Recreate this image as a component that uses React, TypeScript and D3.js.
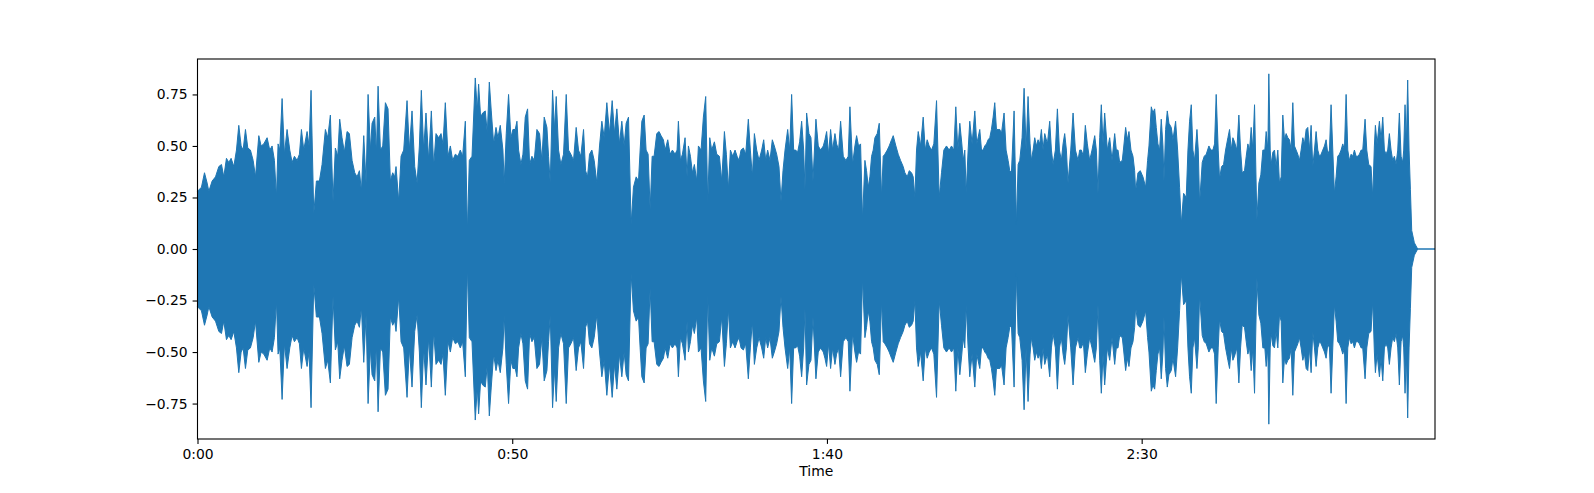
import { useRef, useEffect } from 'react';
import * as d3 from 'd3';

// peak amplitude (symmetric envelope): [seconds, amplitude]
const ENVELOPE_0_24: [number, number][] = [
  [0, 0.28], [0.63, 0.30], [1.11, 0.37], [1.53, 0.32], [1.80, 0.28], [2.33, 0.33], [2.86, 0.35],
  [3.39, 0.40], [3.81, 0.41], [4.18, 0.35], [4.60, 0.44], [4.97, 0.42], [5.34, 0.44], [5.77, 0.40],
  [6.19, 0.48], [6.56, 0.60], [6.93, 0.50], [7.25, 0.48], [7.62, 0.58], [7.99, 0.49], [8.41, 0.48],
  [8.84, 0.43], [9.21, 0.35], [9.74, 0.55], [10.11, 0.50], [10.53, 0.51], [11.06, 0.54], [11.48, 0.48],
  [11.85, 0.50], [12.22, 0.43], [12.54, 0.25], [12.80, 0.51], [13.07, 0.48], [13.44, 0.73], [13.81, 0.46],
  [14.23, 0.58], [14.66, 0.48], [15.03, 0.42], [15.40, 0.45], [15.82, 0.43], [16.19, 0.46], [16.51, 0.58],
  [16.88, 0.48], [17.41, 0.57], [17.72, 0.50], [18.04, 0.77], [18.47, 0.17], [18.89, 0.33], [19.37, 0.33],
  [19.79, 0.41], [20.32, 0.58], [20.69, 0.54], [21.11, 0.65], [21.53, 0.23], [21.90, 0.49], [22.28, 0.45],
  [22.59, 0.63], [22.96, 0.54], [23.33, 0.47], [23.76, 0.57],
];

const ENVELOPE_24_48: [number, number][] = [
  [24.13, 0.56], [24.56, 0.43], [24.98, 0.37], [25.35, 0.35], [25.72, 0.38], [26.04, 0.28], [26.41, 0.55],
  [26.78, 0.32], [27.10, 0.75], [27.47, 0.48], [27.73, 0.61], [28.16, 0.64], [28.42, 0.46], [28.69, 0.79],
  [29.06, 0.48], [29.43, 0.50], [29.85, 0.71], [30.27, 0.68], [30.64, 0.33], [31.01, 0.37], [31.33, 0.35],
  [31.54, 0.40], [31.97, 0.23], [32.34, 0.45], [32.76, 0.48], [33.29, 0.72], [33.66, 0.48], [34.08, 0.67],
  [34.51, 0.40], [34.88, 0.32], [35.25, 0.50], [35.56, 0.77], [35.93, 0.48], [36.30, 0.66], [36.73, 0.43],
  [37.15, 0.67], [37.52, 0.40], [37.89, 0.56], [38.31, 0.54], [38.69, 0.56], [39.00, 0.51], [39.37, 0.71],
  [39.80, 0.45], [40.17, 0.50], [40.54, 0.43], [40.96, 0.46], [41.38, 0.45], [41.75, 0.48], [42.12, 0.45],
  [42.55, 0.62], [42.87, 0.08], [43.18, 0.43], [43.61, 0.45], [44.13, 0.83], [44.45, 0.67], [44.66, 0.80],
  [44.98, 0.64], [45.30, 0.66], [45.72, 0.67], [46.04, 0.56], [46.36, 0.81], [46.67, 0.67], [47.05, 0.51],
  [47.42, 0.59], [47.73, 0.54],
];

const ENVELOPE_48_73: [number, number][] = [
  [48.10, 0.60], [48.52, 0.48], [48.73, 0.32], [49.05, 0.56], [49.42, 0.75], [49.79, 0.54], [50.11, 0.58],
  [50.48, 0.58], [50.75, 0.62], [51.01, 0.48], [51.38, 0.41], [51.70, 0.46], [52.07, 0.64], [52.44, 0.68],
  [52.76, 0.41], [53.13, 0.45], [53.50, 0.43], [53.92, 0.58], [54.34, 0.56], [54.71, 0.43], [55.08, 0.64],
  [55.51, 0.59], [55.77, 0.45], [56.04, 0.32], [56.41, 0.77], [56.72, 0.58], [56.99, 0.74], [57.36, 0.48],
  [57.73, 0.41], [58.15, 0.46], [58.58, 0.75], [58.95, 0.48], [59.32, 0.46], [59.74, 0.43], [60.16, 0.59],
  [60.53, 0.48], [60.90, 0.45], [61.33, 0.58], [61.65, 0.38], [61.96, 0.35], [62.28, 0.46], [62.65, 0.48],
  [63.02, 0.43], [63.44, 0.32], [63.87, 0.50], [64.24, 0.62], [64.61, 0.54], [65.03, 0.71], [65.45, 0.56],
  [65.88, 0.72], [66.25, 0.56], [66.62, 0.68], [67.04, 0.51], [67.41, 0.62], [67.78, 0.50], [68.10, 0.61],
  [68.47, 0.64], [68.89, 0.12], [69.26, 0.30], [69.69, 0.35], [70.06, 0.33], [70.32, 0.48], [70.59, 0.62],
  [70.96, 0.65], [71.27, 0.48], [71.59, 0.46], [71.91, 0.19], [72.23, 0.45], [72.54, 0.45],
];

const ENVELOPE_73_98: [number, number][] = [
  [72.96, 0.56], [73.33, 0.57], [73.65, 0.55], [74.02, 0.53], [74.29, 0.48], [74.71, 0.53], [75.08, 0.46],
  [75.45, 0.48], [75.87, 0.46], [76.19, 0.48], [76.40, 0.62], [76.72, 0.43], [77.04, 0.46], [77.46, 0.54],
  [77.78, 0.35], [77.99, 0.50], [78.31, 0.45], [78.63, 0.37], [78.94, 0.41], [79.31, 0.33], [79.58, 0.50],
  [80.00, 0.48], [80.37, 0.64], [80.74, 0.74], [81.06, 0.22], [81.38, 0.54], [81.69, 0.48], [82.12, 0.52],
  [82.49, 0.46], [82.91, 0.45], [83.28, 0.33], [83.71, 0.57], [84.02, 0.46], [84.34, 0.29], [84.66, 0.48],
  [85.03, 0.45], [85.40, 0.48], [85.72, 0.45], [86.03, 0.43], [86.35, 0.48], [86.72, 0.49], [87.09, 0.46],
  [87.51, 0.63], [87.83, 0.48], [88.15, 0.35], [88.47, 0.56], [88.84, 0.48], [89.21, 0.43], [89.63, 0.48],
  [89.95, 0.53], [90.27, 0.43], [90.58, 0.48], [90.95, 0.43], [91.32, 0.53], [91.64, 0.50], [92.01, 0.46],
  [92.38, 0.40], [92.70, 0.23], [93.02, 0.38], [93.34, 0.48], [93.76, 0.58], [94.08, 0.48], [94.39, 0.75],
  [94.71, 0.48], [95.03, 0.48], [95.35, 0.47], [95.66, 0.52], [95.98, 0.62], [96.30, 0.48], [96.51, 0.29],
  [96.77, 0.66], [97.14, 0.56], [97.46, 0.54], [97.78, 0.33],
];

const ENVELOPE_98_122: [number, number][] = [
  [98.25, 0.63], [98.62, 0.50], [98.99, 0.48], [99.42, 0.50], [99.68, 0.53], [99.95, 0.57], [100.26, 0.46],
  [100.58, 0.58], [100.90, 0.48], [101.27, 0.56], [101.53, 0.51], [101.85, 0.48], [102.17, 0.62], [102.59, 0.45],
  [103.01, 0.43], [103.38, 0.45], [103.65, 0.69], [104.07, 0.41], [104.44, 0.50], [104.71, 0.55], [105.02, 0.50],
  [105.34, 0.51], [105.66, 0.14], [106.03, 0.43], [106.29, 0.38], [106.56, 0.30], [106.82, 0.35], [107.09, 0.45],
  [107.35, 0.48], [107.62, 0.54], [107.99, 0.56], [108.31, 0.61], [108.68, 0.25], [108.94, 0.45], [109.20, 0.46],
  [109.58, 0.48], [109.89, 0.50], [110.26, 0.53], [110.53, 0.55], [110.95, 0.50], [111.32, 0.46], [111.69, 0.43],
  [112.11, 0.40], [112.38, 0.37], [112.75, 0.35], [113.07, 0.38], [113.44, 0.37], [113.70, 0.35], [113.97, 0.25],
  [114.23, 0.48], [114.50, 0.57], [114.87, 0.50], [115.29, 0.64], [115.61, 0.48], [115.92, 0.53], [116.24, 0.50],
  [116.61, 0.48], [116.98, 0.51], [117.41, 0.72], [117.83, 0.25], [118.20, 0.37], [118.57, 0.48], [118.99, 0.50],
  [119.42, 0.48], [119.79, 0.50], [120.16, 0.48], [120.47, 0.69], [120.79, 0.48], [121.11, 0.61], [121.43, 0.51],
  [121.64, 0.43], [121.90, 0.48], [122.12, 0.27],
];

const ENVELOPE_122_147: [number, number][] = [
  [122.43, 0.48], [122.69, 0.62], [123.06, 0.51], [123.49, 0.67], [123.80, 0.51], [124.28, 0.58], [124.55, 0.48],
  [124.81, 0.48], [125.07, 0.50], [125.34, 0.51], [125.60, 0.53], [125.87, 0.54], [126.13, 0.58], [126.40, 0.64],
  [126.66, 0.71], [126.93, 0.58], [127.19, 0.58], [127.46, 0.58], [127.72, 0.56], [128.14, 0.66], [128.46, 0.48],
  [128.78, 0.43], [129.04, 0.38], [129.31, 0.37], [129.73, 0.67], [130.10, 0.12], [130.37, 0.41], [130.63, 0.43],
  [131.00, 0.54], [131.32, 0.78], [131.64, 0.48], [131.95, 0.74], [132.27, 0.51], [132.48, 0.43], [132.75, 0.48],
  [133.01, 0.54], [133.28, 0.50], [133.54, 0.53], [133.80, 0.51], [134.07, 0.58], [134.33, 0.48], [134.60, 0.56],
  [135.02, 0.51], [135.39, 0.62], [135.66, 0.48], [135.92, 0.41], [136.29, 0.48], [136.61, 0.68], [136.93, 0.48],
  [137.24, 0.43], [137.51, 0.51], [137.77, 0.56], [138.04, 0.48], [138.30, 0.32], [138.73, 0.48], [139.10, 0.66],
  [139.47, 0.48], [139.89, 0.43], [140.15, 0.48], [140.42, 0.48], [140.74, 0.45], [141.05, 0.60], [141.37, 0.51],
  [141.74, 0.43], [142.11, 0.48], [142.54, 0.55], [142.80, 0.48], [143.06, 0.27], [143.33, 0.54], [143.59, 0.70],
  [143.86, 0.51], [144.12, 0.66], [144.55, 0.48], [144.92, 0.54], [145.29, 0.43], [145.71, 0.56], [145.97, 0.48],
  [146.24, 0.48],
];

const ENVELOPE_147_171: [number, number][] = [
  [146.50, 0.42], [146.92, 0.43], [147.13, 0.49], [147.45, 0.59], [147.72, 0.53], [147.98, 0.57], [148.30, 0.48],
  [148.62, 0.45], [148.88, 0.38], [149.04, 0.28], [149.41, 0.37], [149.78, 0.38], [150.20, 0.35], [150.63, 0.30],
  [150.94, 0.43], [151.16, 0.50], [151.53, 0.69], [151.79, 0.66], [152.06, 0.68], [152.32, 0.59], [152.58, 0.51],
  [152.85, 0.48], [153.11, 0.63], [153.38, 0.50], [153.54, 0.33], [153.80, 0.58], [154.07, 0.67], [154.33, 0.61],
  [154.70, 0.59], [154.97, 0.53], [155.39, 0.62], [155.71, 0.48], [156.02, 0.30], [156.29, 0.12], [156.66, 0.27],
  [157.08, 0.25], [157.35, 0.48], [157.61, 0.62], [157.88, 0.70], [158.14, 0.48], [158.40, 0.43], [158.78, 0.58],
  [158.99, 0.48], [159.20, 0.22], [159.62, 0.42], [159.94, 0.45], [160.26, 0.46], [160.68, 0.50], [160.99, 0.48],
  [161.31, 0.48], [161.58, 0.51], [161.84, 0.75], [162.16, 0.48], [162.37, 0.34], [162.69, 0.40], [163.01, 0.41],
  [163.33, 0.48], [163.70, 0.54], [163.96, 0.58], [164.22, 0.48], [164.49, 0.54], [164.75, 0.52], [165.12, 0.48],
  [165.44, 0.65], [165.71, 0.48], [165.97, 0.37], [166.34, 0.38], [166.61, 0.45], [166.87, 0.51], [167.14, 0.48],
  [167.40, 0.59], [167.66, 0.48], [167.93, 0.70], [168.30, 0.14], [168.62, 0.32], [168.93, 0.36], [169.25, 0.48],
  [169.57, 0.48], [169.78, 0.57], [170.05, 0.48], [170.20, 0.85], [170.42, 0.48], [170.57, 0.41], [170.84, 0.47],
];

const ENVELOPE_171_END: [number, number][] = [
  [171.10, 0.48], [171.36, 0.40], [171.63, 0.48], [171.89, 0.32], [172.16, 0.35], [172.42, 0.65], [172.69, 0.53],
  [172.95, 0.56], [173.22, 0.54], [173.48, 0.53], [173.75, 0.48], [174.01, 0.71], [174.27, 0.50], [174.54, 0.48],
  [174.80, 0.46], [175.07, 0.43], [175.33, 0.48], [175.60, 0.54], [175.86, 0.51], [176.13, 0.58], [176.39, 0.59],
  [176.66, 0.48], [176.92, 0.60], [177.18, 0.40], [177.45, 0.48], [177.71, 0.57], [177.98, 0.48], [178.24, 0.45],
  [178.51, 0.46], [178.77, 0.48], [179.04, 0.50], [179.30, 0.53], [179.57, 0.46], [179.83, 0.48], [180.09, 0.70],
  [180.36, 0.48], [180.62, 0.27], [180.89, 0.35], [181.15, 0.45], [181.42, 0.46], [181.68, 0.48], [181.95, 0.51],
  [182.21, 0.48], [182.48, 0.75], [182.74, 0.48], [183.00, 0.43], [183.27, 0.46], [183.53, 0.45], [183.80, 0.48],
  [184.06, 0.45], [184.33, 0.45], [184.59, 0.46], [184.86, 0.48], [185.12, 0.48], [185.49, 0.63], [185.76, 0.48],
  [186.07, 0.41], [186.44, 0.40], [186.71, 0.25], [186.97, 0.50], [187.13, 0.60], [187.40, 0.51], [187.77, 0.62],
  [188.03, 0.53], [188.30, 0.64], [188.56, 0.48], [188.82, 0.46], [189.09, 0.48], [189.35, 0.56], [189.62, 0.48],
  [189.88, 0.43], [190.15, 0.45], [190.41, 0.41], [190.68, 0.48], [190.94, 0.66], [191.21, 0.45], [191.47, 0.42],
  [191.63, 0.48], [191.84, 0.70], [192.05, 0.51], [192.26, 0.82], [192.48, 0.48], [192.69, 0.29], [192.90, 0.09],
  [193.32, 0.03], [193.85, 0],
];

const DURATION = 196.6; // seconds
const X_TICKS = [0, 50, 100, 150];
const Y_TICKS = [-0.75, -0.5, -0.25, 0, 0.25, 0.5, 0.75];
const Y_LIMIT = 0.922;

const fmtTime = (s: number) => `${Math.floor(s / 60)}:${String(Math.round(s % 60)).padStart(2, '0')}`;
const fmtAmp = (v: number) => d3.format('.2f')(v).replace('-', '\u2212');

export default function App() {
  const svgRef = useRef<SVGSVGElement>(null);

  useEffect(() => {
    if (!svgRef.current) return;
    const width = 1594;
    const h = 493;
    const margin = { top: 59, right: 159, bottom: 54, left: 197.5 };
    const font = 'DejaVu Sans, sans-serif';
    const color = '#1f77b4';

    const svg = d3.select(svgRef.current);
    svg.selectAll('*').remove();
    svg.attr('width', width).attr('height', h).attr('viewBox', `0 0 ${width} ${h}`);

    const x = d3.scaleLinear().domain([0, DURATION]).range([margin.left, width - margin.right]);
    const y = d3.scaleLinear().domain([-Y_LIMIT, Y_LIMIT]).range([h - margin.bottom, margin.top]);

    const pts: [number, number][] = [
      ...ENVELOPE_0_24, ...ENVELOPE_24_48, ...ENVELOPE_48_73, ...ENVELOPE_73_98,
      ...ENVELOPE_98_122, ...ENVELOPE_122_147, ...ENVELOPE_147_171, ...ENVELOPE_171_END,
      [DURATION, 0],
    ];

    // waveform envelope, mirrored around zero
    svg.append('path')
      .datum(pts)
      .attr('fill', color)
      .attr('stroke', color)
      .attr('stroke-width', 1)
      .attr('d', d3.area<[number, number]>()
        .x(d => x(d[0]))
        .y0(d => y(-d[1]))
        .y1(d => y(d[1])));

    // frame
    svg.append('rect')
      .attr('x', margin.left).attr('y', margin.top)
      .attr('width', width - margin.right - margin.left)
      .attr('height', h - margin.bottom - margin.top)
      .attr('fill', 'none').attr('stroke', '#000').attr('stroke-width', 1.1);

    const tickLen = 4.9;

    svg.append('g')
      .attr('transform', `translate(0,${h - margin.bottom})`)
      .call(d3.axisBottom(x).tickValues(X_TICKS).tickFormat(d => fmtTime(+d)).tickSize(tickLen).tickPadding(4.9))
      .call(g => g.select('.domain').remove())
      .call(g => g.selectAll('.tick line').attr('stroke', '#000').attr('stroke-width', 1.1))
      .call(g => g.selectAll('.tick text').attr('fill', '#000').attr('font-size', '13.9px').attr('font-family', font));

    svg.append('g')
      .attr('transform', `translate(${margin.left},0)`)
      .call(d3.axisLeft(y).tickValues(Y_TICKS).tickFormat(d => fmtAmp(+d)).tickSize(tickLen).tickPadding(4.9))
      .call(g => g.select('.domain').remove())
      .call(g => g.selectAll('.tick line').attr('stroke', '#000').attr('stroke-width', 1.1))
      .call(g => g.selectAll('.tick text').attr('fill', '#000').attr('font-size', '13.9px').attr('font-family', font));

    svg.append('text')
      .attr('x', (margin.left + width - margin.right) / 2)
      .attr('y', h - 17)
      .attr('text-anchor', 'middle')
      .attr('fill', '#000').attr('font-size', '13.9px').attr('font-family', font)
      .text('Time');
  }, []);

  return (
    <svg ref={svgRef} style={{ position: 'absolute', left: 0, top: 0, background: '#fff' }} />
  );
}
